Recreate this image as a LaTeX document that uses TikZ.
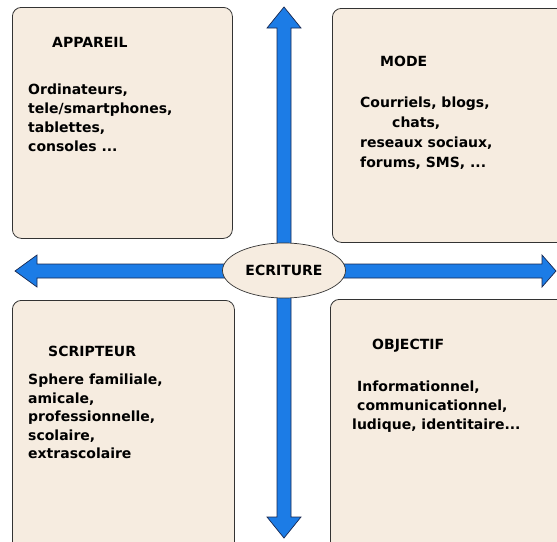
\documentclass[tikz,border=0pt]{standalone}
\usepackage{fontspec}
\setmainfont{DejaVu Sans}
\usetikzlibrary{shapes.geometric}
\definecolor{boxbeige}{RGB}{246,236,224}
\definecolor{arrowblue}{RGB}{28,124,230}
\definecolor{edgenavy}{RGB}{25,40,80}

\begin{document}
\begin{tikzpicture}[x=1pt,y=-1pt,
  panel/.style={draw=black!80,fill=boxbeige,rounded corners=9pt,line width=0.8pt,anchor=north west,inner sep=0pt},
  txt/.style={font=\bfseries\fontsize{14}{19}\selectfont,align=left,anchor=north west,inner sep=0pt},
  pointer/.style={draw=edgenavy,fill=arrowblue,line width=0.7pt}]

\clip (0,0) rectangle (557,541);
\fill[white] (0,0) rectangle (557,541);

\coordinate (T) at (284,7);
\coordinate (Bt) at (284,538);
\coordinate (L) at (15,271);
\coordinate (R) at (556,271);

\node[panel,minimum width=220pt,minimum height=231pt] (appareil) at (12,7) {};
\node[panel,minimum width=240pt,minimum height=234pt] (mode) at (332,8) {};
\node[panel,minimum width=222pt,minimum height=260pt] (scripteur) at (12,300) {};
\node[panel,minimum width=240pt,minimum height=260pt] (objectif) at (330,299) {};

\node[txt] (appareil-t) at (52,37) {APPAREIL};
\node[txt] (appareil-b) at (28,84) {Ordinateurs,\\tele/smartphones,\\tablettes,\\consoles ...};

\node[txt] (mode-t) at (380,56) {MODE};
\node[txt,font=\bfseries\fontsize{14}{20}\selectfont] (mode-b) at (360,97) {Courriels, blogs,\\\hspace{32pt}chats,\\reseaux sociaux,\\forums, SMS, ...};

\node[txt] (scripteur-t) at (48,346) {SCRIPTEUR};
\node[txt,font=\bfseries\fontsize{14}{18.5}\selectfont] (scripteur-b) at (28,374) {Sphere familiale,\\amicale,\\professionnelle,\\scolaire,\\extrascolaire};

\node[txt] (objectif-t) at (372,339) {OBJECTIF};
\node[txt] (objectif-b) at (352,381) {\hspace{5pt}Informationnel,\\\hspace{5pt}communicationnel,\\ludique, identitaire...};

\draw[pointer] (T) -- ++(17,21) -- ++(-10,0) -- ++(0,489) -- ++(10,0) -- (Bt) -- ++(-17,-21) -- ++(10,0) -- ++(0,-489) -- ++(-10,0) -- cycle;
\draw[pointer] (L) -- ++(22,-16) -- ++(0,9) -- ++(505,0) -- ++(0,-9) -- (R) -- ++(-14,16) -- ++(0,-9) -- ++(-505,0) -- ++(0,9) -- cycle;

\node[ellipse,draw=black!80,fill=boxbeige,line width=0.7pt,minimum width=123pt,minimum height=55pt,inner sep=0pt,font=\bfseries\fontsize{14}{19}\selectfont] (ecriture) at (284,270.5) {ECRITURE};

\end{tikzpicture}
\end{document}
